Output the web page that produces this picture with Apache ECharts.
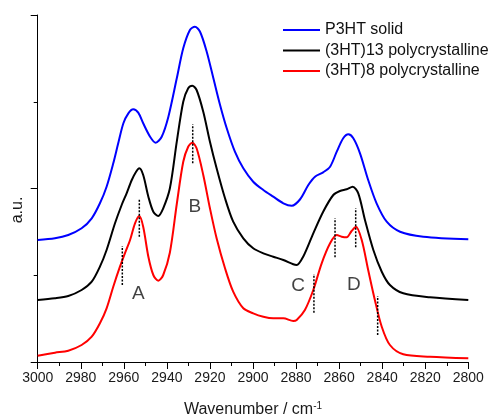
<!DOCTYPE html>
<html>
<head>
<meta charset="utf-8">
<script src="https://cdn.jsdelivr.net/npm/echarts@6/dist/echarts.min.js"></script>
<style>html,body{margin:0;padding:0;background:#fff}#c{width:496px;height:416px}</style>
</head>
<body>
<div id="c"></div>
<script>
const seriesNames = ['P3HT solid', '(3HT)13 polycrystalline', '(3HT)8 polycrystalline'];
const seriesColors = ['#0000ff', '#000000', '#ff0000'];

// [wavenumber (cm-1), intensity (a.u.)]
const p3htSolid = [
  [3000,122],[2992.0,123.7],[2985.8,127],[2979.6,133.7],[2974.9,143.7],[2971.1,158.7],
  [2968.0,175.3],[2964.9,198.7],[2962.6,218.7],[2960.2,238.7],[2957.9,248.7],[2955.6,252.7],
  [2953.3,249.3],[2951.0,238.7],[2947.8,225.3],[2945.2,219.3],[2942.4,225.3],[2939.3,245.3],
  [2935.4,283.7],[2932.4,313.7],[2929.3,332],[2927.0,335.3],[2924.6,330.3],[2921.5,310.3],
  [2918.4,283.7],[2915.3,257],[2912.2,233.7],[2908.4,210.3],[2904.5,193.7],[2899.9,180.3],
  [2895.2,172],[2890.6,165.3],[2885.9,158.7],[2882.0,156.3],[2878.2,162.5],[2874.3,177],
  [2871.2,185.3],[2867.4,189.7],[2864.2,195.3],[2861.1,210.3],[2858.1,223.7],[2855.7,227.7],
  [2853.4,223.7],[2850.3,208.7],[2846.5,182],[2842.6,158.7],[2837.9,140.3],[2831.7,130.3],
  [2820.9,125.3],[2800,122.7]
];
const hT13 = [
  [3000,62],[2992.0,63.7],[2985.8,66],[2979.6,72],[2974.9,80.3],[2971.1,95.3],
  [2968.0,112],[2964.1,138.7],[2961.0,157],[2958.7,168.7],[2956.3,182],[2954.3,190.3],
  [2952.8,193.7],[2951.0,187],[2948.6,165.3],[2946.3,150.3],[2944.0,146],[2941.7,153.7],
  [2938.6,173.7],[2935.4,220.3],[2932.4,260.3],[2930.1,273.7],[2928.2,276.3],[2926.2,272],
  [2923.1,250.3],[2920.0,220.3],[2916.9,193.7],[2913.0,163.7],[2909.2,140.3],[2904.5,123.7],
  [2899.9,113.7],[2895.2,108.7],[2890.6,105.3],[2885.9,102],[2881.3,97.7],[2879.7,97],
  [2876.7,105.3],[2872.0,128.7],[2867.4,150.3],[2862.7,167],[2859.6,171],[2856.5,172.7],
  [2853.7,175.3],[2851.1,168.7],[2848.0,142],[2844.1,112],[2840.2,90.3],[2836.4,77],
  [2830.2,68.7],[2817.8,64.7],[2800,62]
];
const hT8 = [
  [3000,6.3],[2992.0,9.3],[2985.8,11.3],[2979.6,17],[2974.9,25.3],[2971.1,38.7],
  [2968.0,53.7],[2964.9,75.3],[2961.8,95.3],[2959.5,108.7],[2957.1,122],[2954.8,138.7],
  [2952.8,146],[2951.0,135.3],[2948.6,105.3],[2946.3,87],[2944.0,81.3],[2941.7,87],
  [2938.6,109.5],[2935.4,158],[2932.4,200.3],[2930.1,215.3],[2928.2,219.3],[2926.2,213.7],
  [2923.1,187],[2920.0,153.7],[2916.9,123.7],[2913.0,93.7],[2909.2,70.3],[2904.5,53.7],
  [2899.9,48.7],[2895.2,45.3],[2890.6,43.7],[2885.9,43.7],[2881.3,41],[2879.7,42],
  [2875.9,52],[2872.0,72],[2868.1,98.7],[2864.2,118.7],[2861.1,127],[2858.8,125.3],
  [2856.5,124.7],[2854.2,131],[2852.2,135.3],[2849.5,122],[2846.5,92],[2843.4,62],
  [2840.2,35.3],[2836.4,17],[2830.2,7.7],[2817.8,5.3],[2800,3.7]
];
// dotted marker lines: [wavenumber, lower, upper]
const markerLines = [
  [2960.7,77,116],[2952.8,125.3,163.7],[2928.0,198.7,237.7],[2871.7,49.3,88],
  [2861.9,104.7,143.7],[2852.3,114.7,153.7],[2842.1,27,66]
];
// peak letters: [wavenumber, intensity, text]
const peakLabels = [[2953.3,68.7,'A'],[2927.0,155.3,'B'],[2879.0,76.3,'C'],[2853.1,77,'D']];
const xTicks = {min: 2800, max: 3000, interval: 20};
const yTicks = {min: 0, max: 347, interval: 173.5};

const font = 'Arial, "Liberation Sans", sans-serif';
const chart = echarts.init(document.getElementById('c'), null, {renderer: 'canvas'});

const curveSeries = [p3htSolid, hT13, hT8].map((d, i) => ({
  name: seriesNames[i], type: 'line', data: d, smooth: 0.3, symbol: 'none',
  lineStyle: {color: seriesColors[i], width: 2}, itemStyle: {color: seriesColors[i]}, z: 3 + i
}));
const markerSeries = markerLines.map(m => ({
  type: 'line', data: [[m[0], m[1]], [m[0], m[2]]], symbol: 'none', silent: true,
  lineStyle: {color: '#000', width: 1.5, type: [2, 1.5]}, z: 10
}));
const letterSeries = {
  type: 'scatter', symbolSize: 0, silent: true, z: 11,
  data: peakLabels.map(p => ({value: [p[0], p[1]], label: {formatter: p[2]}})),
  label: {show: true, position: 'inside', color: '#111', fontSize: 19, fontFamily: font}
};

chart.setOption({
  animation: false,
  backgroundColor: '#fff',
  grid: {left: 37.7, right: 27.7, top: 15, bottom: 54, containLabel: false, outerBoundsMode: 'none'},
  legend: {
    data: seriesNames, orient: 'vertical', left: 278, top: 15,
    icon: 'rect', itemWidth: 37, itemHeight: 2, itemGap: 0.5,
    textStyle: {fontSize: 16, lineHeight: 20, height: 20, fontFamily: font, color: '#111'}
  },
  xAxis: {
    type: 'value', inverse: true, min: xTicks.min, max: xTicks.max, interval: xTicks.interval,
    axisLine: {lineStyle: {color: '#000', width: 1}},
    axisTick: {length: 7, lineStyle: {color: '#000'}},
    minorTick: {show: true, splitNumber: 2, length: 4, lineStyle: {color: '#000'}},
    splitLine: {show: false},
    axisLabel: {fontSize: 14, fontFamily: font, color: '#1a1a1a', margin: 9, formatter: v => String(v)},
    name: 'Wavenumber / cm{sup|-1}', nameLocation: 'middle', nameGap: 39,
    nameTextStyle: {fontSize: 16, fontFamily: font, color: '#1a1a1a',
      rich: {sup: {fontSize: 10, fontFamily: font, color: '#1a1a1a', verticalAlign: 'top', padding: [0, 0, 8, 0]}}}
  },
  yAxis: {
    type: 'value', min: yTicks.min, max: yTicks.max, interval: yTicks.interval,
    axisLine: {show: true, lineStyle: {color: '#000', width: 1}},
    axisTick: {show: true, length: 7, lineStyle: {color: '#000'}},
    minorTick: {show: true, splitNumber: 2, length: 4, lineStyle: {color: '#000'}},
    splitLine: {show: false},
    axisLabel: {show: false}
  },
  graphic: [{
    type: 'text', x: 18, y: 210, rotation: Math.PI / 2,
    style: {text: 'a.u.', fontSize: 16, fontFamily: font, fill: '#1a1a1a', textAlign: 'center', textVerticalAlign: 'middle'}
  }],
  series: [...curveSeries, ...markerSeries, letterSeries]
});
</script>
</body>
</html>
